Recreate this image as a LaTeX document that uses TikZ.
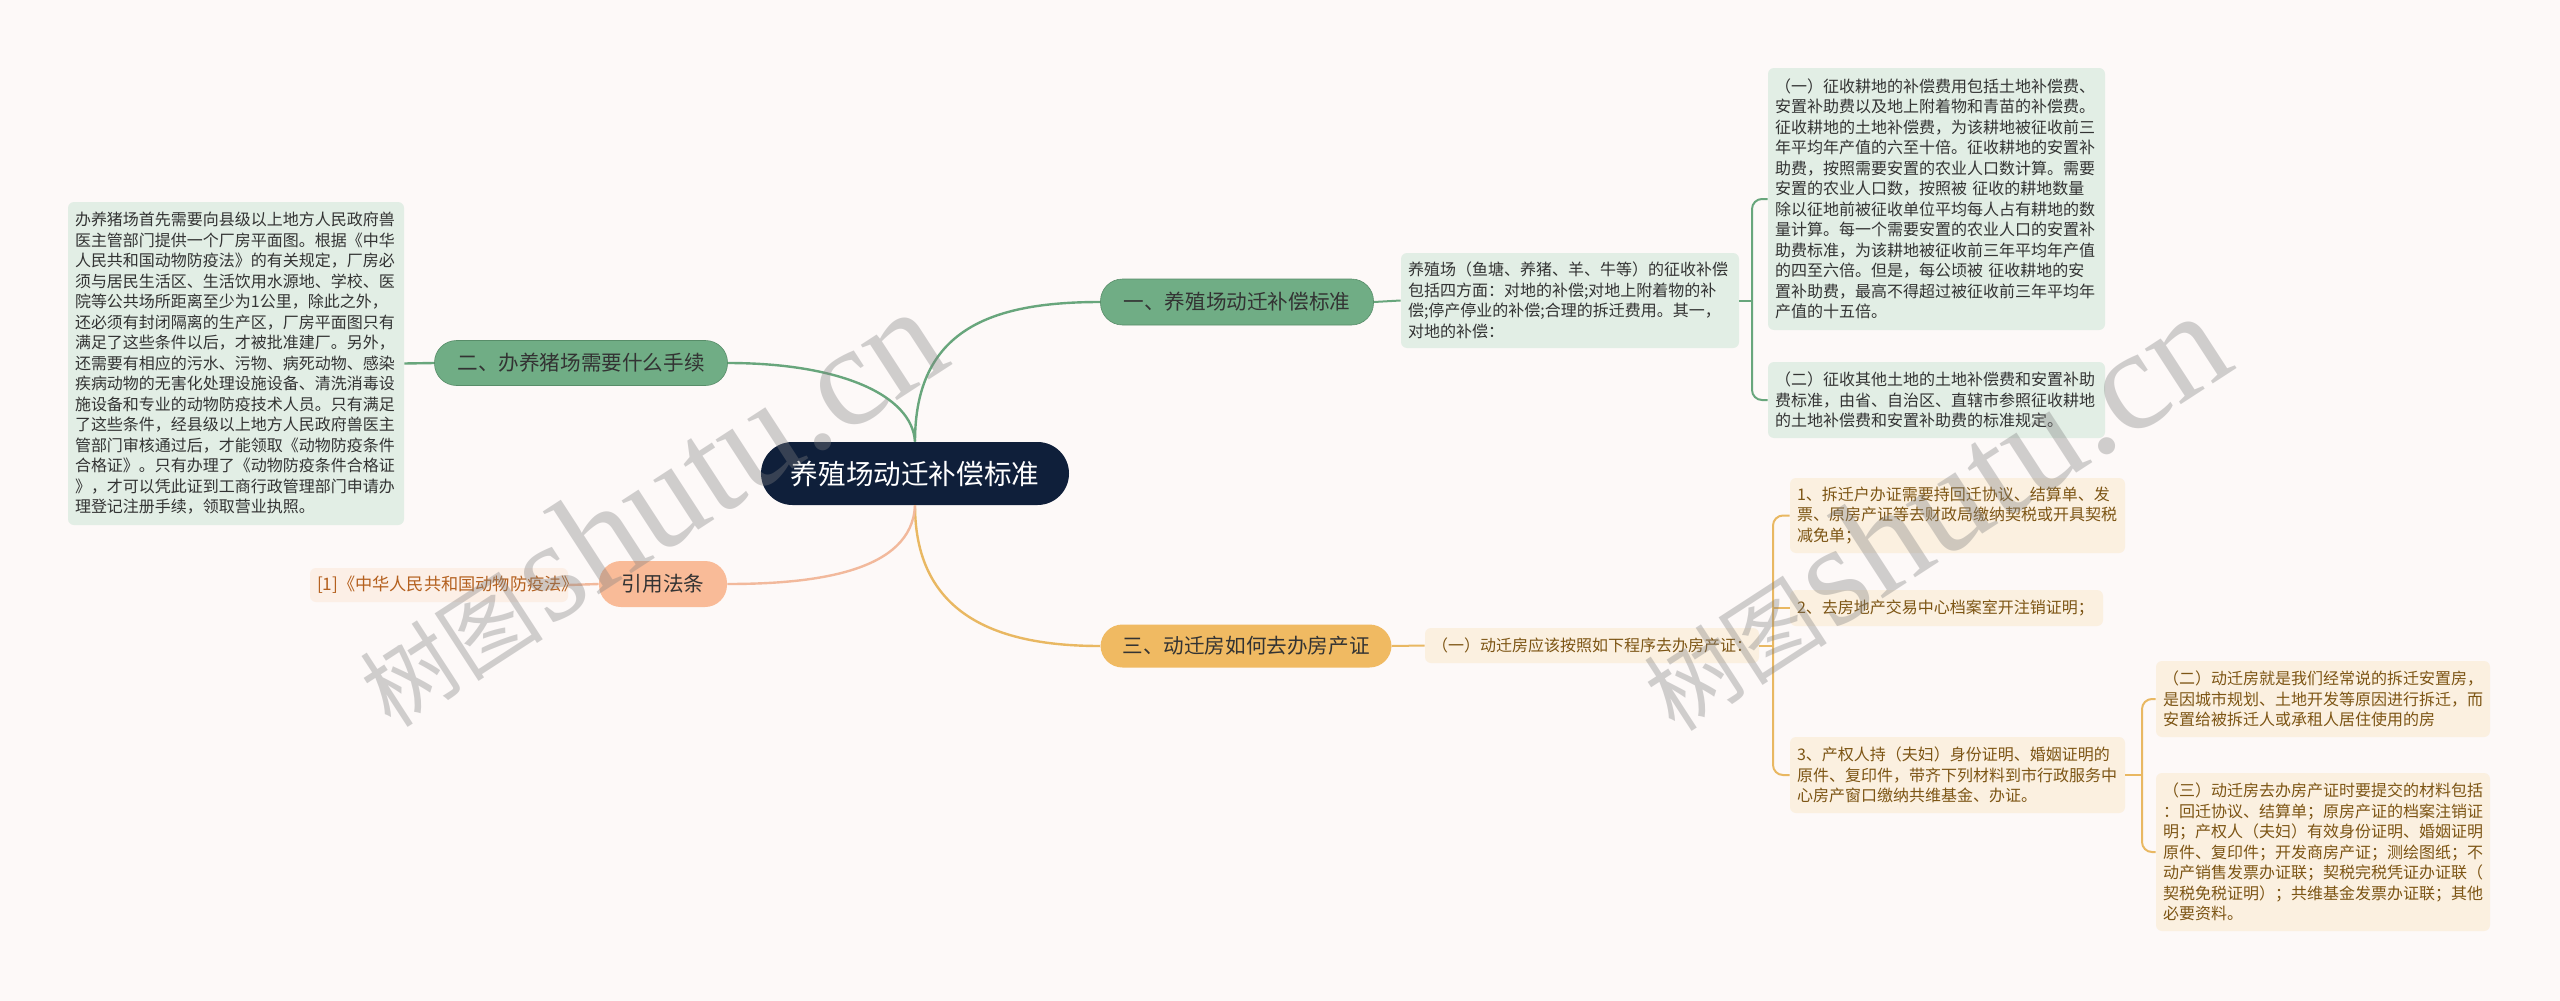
\documentclass[tikz,border=0pt]{standalone}
\usepackage{fontspec}
\setmainfont{Noto Sans CJK SC}
\newfontfamily\cjk{Noto Sans CJK SC}
\newfontfamily\wmlat{Liberation Serif}
\usetikzlibrary{calc}
\definecolor{bgc}{HTML}{FDF9F8}
\definecolor{navy}{HTML}{0F1F3A}
\definecolor{gfill}{HTML}{70AD85}
\definecolor{gline}{HTML}{68A67C}
\definecolor{lgreen}{HTML}{E2EEE5}
\definecolor{gold}{HTML}{F0BA62}
\definecolor{goldline}{HTML}{E9B862}
\definecolor{lpeach}{HTML}{FBF0E0}
\definecolor{brownt}{HTML}{7D5514}
\definecolor{salmon}{HTML}{F9BB98}
\definecolor{salline}{HTML}{F2B99C}
\definecolor{refbg}{HTML}{FCEFE6}
\definecolor{reft}{HTML}{B4601E}
\definecolor{txtd}{HTML}{333333}
\tikzset{
  smallbox/.style={font=\cjk\fontsize{8pt}{10.25pt}\selectfont, align=left, inner xsep=3.5pt, inner ysep=0pt, rounded corners=3pt, anchor=center},
  greenbox/.style={smallbox, fill=lgreen, text=txtd},
  goldbox/.style={smallbox, fill=lpeach, text=brownt},
  branchbox/.style={font=\cjk\fontsize{10.3pt}{12pt}\selectfont, inner sep=0pt, rounded corners=11pt, text=txtd, anchor=center},
  gcon/.style={draw=gline, line width=1.2pt},
  ycon/.style={draw=goldline, line width=1.2pt},
  scon/.style={draw=salline, line width=1.2pt},
  gbr/.style={draw=gline, line width=1pt, rounded corners=5pt},
  ybr/.style={draw=goldline, line width=1pt, rounded corners=5pt},
  wm/.style={rotate=33, text=gray, opacity=0.36, inner sep=0pt}
}
\begin{document}
\begin{tikzpicture}[x=0.5pt,y=-0.5pt]
\fill[bgc] (0,0) rectangle (2560,1001);
\useasboundingbox (0,0) rectangle (2560,1001);

% root
\node[fill=navy, text=white, font=\cjk\fontsize{13.8pt}{16pt}\selectfont, minimum width=154pt, minimum height=31.5pt, rounded corners=15.75pt, inner sep=0pt] (root) at (915,473.5) {养殖场动迁补偿标准};

% branches
\node[branchbox, fill=gfill, draw=gline!85!black, line width=0.3pt, minimum width=136.5pt, minimum height=23pt] (b1) at (1237,302) {一、养殖场动迁补偿标准};
\node[branchbox, fill=gfill, draw=gline!85!black, line width=0.3pt, minimum width=146.5pt, minimum height=22.5pt] (b2) at (581,363) {二、办养猪场需要什么手续};
\node[branchbox, fill=gold, minimum width=145.5pt, minimum height=21.5pt] (b3) at (1246,646) {三、动迁房如何去办房产证};
\node[branchbox, fill=salmon, minimum width=64pt, minimum height=23pt] (refb) at (663,584) {引用法条};

% branch 1 details
\node[greenbox, text width=162pt, minimum height=47.5pt] (d1) at (1570,300.5) {养殖场（鱼塘、养猪、羊、牛等）的征收补偿\\包括四方面：对地的补偿;对地上附着物的补\\偿;停产停业的补偿;合理的拆迁费用。其一，\\对地的补偿：};
\node[greenbox, text width=161.5pt, minimum height=131pt] (c11) at (1936.5,199) {（一）征收耕地的补偿费用包括土地补偿费、\\安置补助费以及地上附着物和青苗的补偿费。\\征收耕地的土地补偿费，为该耕地被征收前三\\年平均年产值的六至十倍。征收耕地的安置补\\助费，按照需要安置的农业人口数计算。需要\\安置的农业人口数，按照被 征收的耕地数量\\除以征地前被征收单位平均每人占有耕地的数\\量计算。每一个需要安置的农业人口的安置补\\助费标准，为该耕地被征收前三年平均年产值\\的四至六倍。但是，每公顷被 征收耕地的安\\置补助费，最高不得超过被征收前三年平均年\\产值的十五倍。};
\node[greenbox, text width=161.5pt, minimum height=38pt] (c12) at (1936.5,400) {（二）征收其他土地的土地补偿费和安置补助\\费标准，由省、自治区、直辖市参照征收耕地\\的土地补偿费和安置补助费的标准规定。};

% branch 2 detail
\node[greenbox, text width=161pt, minimum height=161.5pt, fill=lgreen] (L2) at (236,363.5) {办养猪场首先需要向县级以上地方人民政府兽\\医主管部门提供一个厂房平面图。根据《中华\\人民共和国动物防疫法》的有关规定，厂房必\\须与居民生活区、生活饮用水源地、学校、医\\院等公共场所距离至少为1公里，除此之外，\\还必须有封闭隔离的生产区，厂房平面图只有\\满足了这些条件以后，才被批准建厂。另外，\\还需要有相应的污水、污物、病死动物、感染\\疾病动物的无害化处理设施设备、清洗消毒设\\施设备和专业的动物防疫技术人员。只有满足\\了这些条件，经县级以上地方人民政府兽医主\\管部门审核通过后，才能领取《动物防疫条件\\合格证》。只有办理了《动物防疫条件合格证\\》，才可以凭此证到工商行政管理部门申请办\\理登记注册手续，领取营业执照。};

% reference
\node[smallbox, fill=refbg, text=reft, text width=122pt, minimum height=17pt, font=\cjk\fontsize{8.6pt}{10pt}\selectfont] (reft) at (439,585) {[1]《中华人民共和国动物防疫法》};

% branch 3 details
\node[goldbox, text width=160pt, minimum height=17.5pt, align=center] (p0) at (1592,645.5) {（一）动迁房应该按照如下程序去办房产证：};
\node[goldbox, text width=160.5pt, minimum height=37.5pt] (s1) at (1957.5,515.5) {1、拆迁户办证需要持回迁协议、结算单、发\\票、原房产证等去财政局缴纳契税或开具契税\\减免单；};
\node[goldbox, text width=149.5pt, minimum height=18pt] (s2) at (1946.5,608) {2、去房地产交易中心档案室开注销证明；};
\node[goldbox, text width=160.5pt, minimum height=38pt] (s3) at (1957.5,775) {3、产权人持（夫妇）身份证明、婚姻证明的\\原件、复印件，带齐下列材料到市行政服务中\\心房产窗口缴纳共维基金、办证。};
\node[goldbox, text width=160pt, minimum height=38pt] (t2) at (2323,699) {（二）动迁房就是我们经常说的拆迁安置房，\\是因城市规划、土地开发等原因进行拆迁，而\\安置给被拆迁人或承租人居住使用的房};
\node[goldbox, text width=160pt, minimum height=79pt] (t3) at (2323,852) {（三）动迁房去办房产证时要提交的材料包括\\：回迁协议、结算单；原房产证的档案注销证\\明；产权人（夫妇）有效身份证明、婚姻证明\\原件、复印件；开发商房产证；测绘图纸；不\\动产销售发票办证联；契税完税凭证办证联（\\契税免税证明）；共维基金发票办证联；其他\\必要资料。};

% bracket spine coordinates
\coordinate (k1) at (1752,300.5);
\coordinate (k3) at (1773,645.5);
\coordinate (k4) at (2142,775);

% connectors from root
\draw[gcon] (root.north) .. controls (915,330) and (990,302) .. (b1.west);
\draw[gcon] (b2.east) .. controls (840,363) and (912,395) .. (root.north);
\draw[ycon] (root.south) .. controls (915,620) and (1005,646) .. (b3.west);
\draw[scon] (root.south) .. controls (912,572) and (815,584) .. (refb.east);
\draw[scon] (refb.west) -- (reft.east);
\draw[gcon] (L2.east) -- (b2.west);

% branch 1
\draw[gcon, line width=1pt] (b1.east) -- (d1.west);
\draw[gbr] (c11.west) -| (k1) |- (c12.west);
\draw[gline, line width=1pt] (d1.east) -- (k1);

% branch 3
\draw[ycon, line width=1pt] (b3.east) -- (p0.west);
\draw[ybr] (s1.west) -| (k3) |- (s3.west);
\draw[goldline, line width=1pt] (p0.east) -- (k3);
\draw[goldline, line width=1pt] (s2.west) -- (s2.west -| k3);
\draw[ybr] (t2.west) -| (k4) |- (t3.west);
\draw[goldline, line width=1pt] (s3.east) -- (k4);

% watermarks
\node[wm] (wm1) at (648,508) {{\cjk\fontsize{46pt}{50pt}\selectfont 树图} {\wmlat\fontsize{72pt}{74pt}\selectfont shutu.cn}};
\node[wm] (wm2) at (1932,512) {{\cjk\fontsize{46pt}{50pt}\selectfont 树图} {\wmlat\fontsize{72pt}{74pt}\selectfont shutu.cn}};
\end{tikzpicture}
\end{document}
